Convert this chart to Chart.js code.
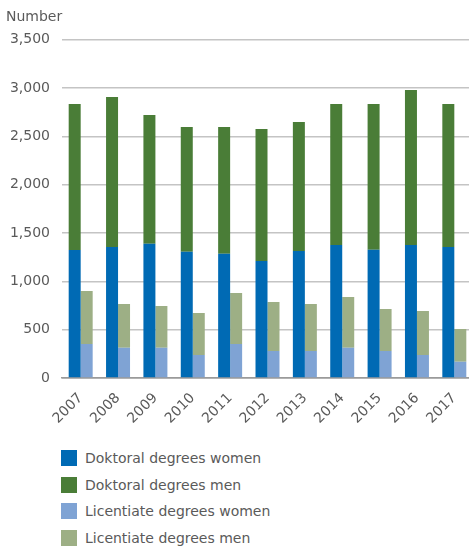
<!DOCTYPE html>
<html>
<head>
<meta charset="utf-8">
<script src="https://cdn.jsdelivr.net/npm/chart.js@4/dist/chart.umd.min.js"></script>
<style>
    body { margin: 0; background: #fff; overflow: hidden; }
    #wrap { width: 469px; height: 546px; overflow: hidden; position: relative; }
    #chart { display: block; }
    #legend { position: absolute; left: 61px; top: 445px; font-family: "DejaVu Sans", sans-serif; font-size: 14px; color: #5a5a5a; }
    .item { display: flex; align-items: center; height: 26.5px; }
    .box { width: 16px; height: 16px; margin-right: 8px; }
</style>
</head>
<body>
<div id="wrap">
    <canvas id="chart" width="473" height="438"></canvas>
    <div id="legend"></div>
</div>
<script>
const years = ['2007', '2008', '2009', '2010', '2011', '2012', '2013', '2014', '2015', '2016', '2017'];

const doktoralWomen = [1325, 1356, 1390, 1307, 1287, 1211, 1315, 1377, 1328, 1377, 1356];
const doktoralMen = [1511, 1553, 1333, 1291, 1311, 1367, 1335, 1459, 1508, 1604, 1480];
const licentiateWomen = [352, 314, 314, 238, 352, 280, 280, 314, 280, 238, 169];
const licentiateMen = [548, 452, 431, 435, 528, 507, 486, 524, 434, 455, 338];

const seriesNames = ['Doktoral degrees women', 'Doktoral degrees men', 'Licentiate degrees women', 'Licentiate degrees men'];
const seriesColors = ['#006ab4', '#4a7d37', '#7fa3d4', '#9daf85'];
const stacks = ['doktoral', 'doktoral', 'licentiate', 'licentiate'];
const seriesData = [doktoralWomen, doktoralMen, licentiateWomen, licentiateMen];

const yTicks = [0, 500, 1000, 1500, 2000, 2500, 3000, 3500];

Chart.defaults.font.family = '"DejaVu Sans", sans-serif';
Chart.defaults.font.size = 14;
Chart.defaults.color = '#5a5a5a';

const datasets = seriesNames.map((name, i) => ({
    label: name,
    data: seriesData[i],
    backgroundColor: seriesColors[i],
    stack: stacks[i],
    borderWidth: 0,
    barPercentage: 1,
    categoryPercentage: 0.642,
}));

new Chart(document.getElementById('chart'), {
    type: 'bar',
    data: { labels: years, datasets: datasets },
    options: {
        responsive: false,
        animation: false,
        layout: { padding: { left: 6, right: 0, top: 0, bottom: 0 } },
        plugins: {
            legend: { display: false },
            tooltip: { enabled: false },
            title: {
                display: true,
                text: 'Number',
                align: 'start',
                color: '#5a5a5a',
                font: { size: 14, weight: 'normal' },
                padding: { top: 9, bottom: 14 },
            },
        },
        scales: {
            x: {
                stacked: true,
                grid: { display: false, drawTicks: false },
                border: { display: true, color: '#9a9a9a', width: 1.5 },
                ticks: { maxRotation: 45, minRotation: 45, padding: 12 },
                afterFit: (scale) => {
                    scale.height = 60;
                    scale.paddingLeft = 0;
                    scale.paddingRight = 0;
                },
            },
            y: {
                stacked: true,
                min: 0,
                max: 3500,
                afterBuildTicks: (scale) => { scale.ticks = yTicks.map(v => ({ value: v })); },
                ticks: {
                    padding: 12,
                    callback: (v) => v.toLocaleString('en-US'),
                },
                grid: {
                    drawTicks: false,
                    lineWidth: 1.5,
                    color: (ctx) => ctx.tick && ctx.tick.value === 0 ? '#9a9a9a' : '#c4c4c4',
                },
                border: { display: false },
                afterFit: (scale) => { scale.width = 56; },
            },
        },
    },
});

// legend, one entry per row
const legend = document.getElementById('legend');
seriesNames.forEach((name, i) => {
    const row = document.createElement('div');
    row.className = 'item';
    row.innerHTML = `<span class="box" style="background:${seriesColors[i]}"></span><span>${name}</span>`;
    legend.appendChild(row);
});
</script>
</body>
</html>
